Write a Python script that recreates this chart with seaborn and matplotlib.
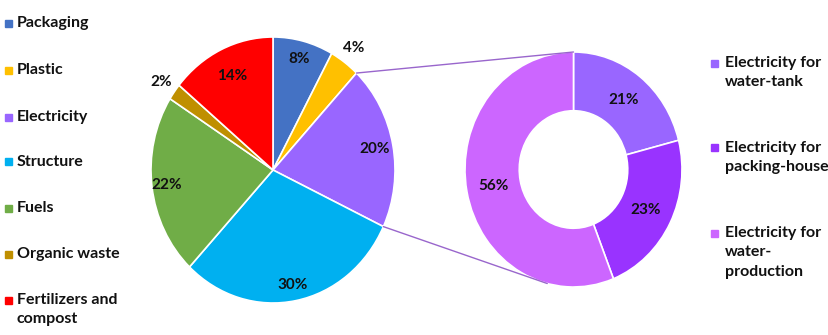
import textwrap
import numpy as np
import matplotlib
matplotlib.use("Agg")
import matplotlib.pyplot as plt
from matplotlib.patches import ConnectionPatch
import seaborn as sns

# ---- data ----
categories = ["Packaging", "Plastic", "Electricity", "Structure", "Fuels",
              "Organic waste", "Fertilizers and compost"]
shares = [8, 4, 20, 30, 22, 2, 14]
cat_colors = ["#4472C4", "#FFC000", "#9966FF", "#00B0F0", "#70AD47",
              "#BF8F00", "#FF0000"]

sub_categories = ["Electricity for water-tank", "Electricity for packing-house",
                  "Electricity for water-production"]
sub_shares = [21, 23, 56]
sub_colors = ["#9966FF", "#9933FF", "#CC66FF"]

sns.set_theme(style="white")
plt.rcParams["font.family"] = ["Lato", "DejaVu Sans"]

W, H = 829, 335
fig = plt.figure(figsize=(W / 100, H / 100), dpi=100)

def fx(x):
    return x / W

def fy(y):
    return 1 - y / H

# main pie axes (pixel bbox: x 151-395, y 37-303)
ax1 = fig.add_axes([fx(151), fy(303), (395 - 151) / W, (303 - 37) / H])
wedges1, _ = ax1.pie(shares, colors=cat_colors, startangle=90, counterclock=False,
                     wedgeprops=dict(edgecolor="white", linewidth=1.2))
ax1.set_xlim(-1, 1)
ax1.set_ylim(-1, 1)
ax1.set_aspect("auto")
ax1.axis("off")

label_r = [0.86, 1.13, 0.85, 0.88, 0.88, 1.13, 0.78]
for w, v, r in zip(wedges1, shares, label_r):
    th = np.deg2rad((w.theta1 + w.theta2) / 2)
    ax1.text(r * np.cos(th), r * np.sin(th), f"{v}%", ha="center", va="center",
             fontsize=11, fontweight="bold", color="#111111")

# donut axes (pixel bbox: x 465-682, y 52-287)
ax2 = fig.add_axes([fx(465), fy(287), (682 - 465) / W, (287 - 52) / H])
wedges2, _ = ax2.pie(sub_shares, colors=sub_colors, startangle=90, counterclock=False,
                     wedgeprops=dict(width=0.5, edgecolor="white", linewidth=1.2))
ax2.set_xlim(-1, 1)
ax2.set_ylim(-1, 1)
ax2.set_aspect("auto")
ax2.axis("off")
for w, v in zip(wedges2, sub_shares):
    th = np.deg2rad((w.theta1 + w.theta2) / 2)
    ax2.text(0.75 * np.cos(th), 0.75 * np.sin(th), f"{v}%", ha="center", va="center",
             fontsize=11, fontweight="bold", color="#111111")

# connecting lines from the Electricity wedge to the donut
elec = wedges1[2]
t_hi = np.deg2rad(elec.theta2)
t_lo = np.deg2rad(elec.theta1)
for ta, tb in [(t_hi, np.deg2rad(90)), (t_lo, np.deg2rad(-104))]:
    con = ConnectionPatch(xyA=(np.cos(ta), np.sin(ta)), coordsA=ax1.transData,
                          xyB=(np.cos(tb), np.sin(tb)), coordsB=ax2.transData,
                          color="#9966CC", linewidth=1.0)
    fig.add_artist(con)

# left legend
left_y = [23, 70, 117, 162, 208, 254, 300]
for cat, col, y in zip(categories, cat_colors, left_y):
    fig.patches.append(plt.Rectangle((fx(5), fy(y + 3.5)), 7 / W, 7 / H,
                                     transform=fig.transFigure, color=col,
                                     figure=fig))
    fig.text(fx(17), fy(y - 7), "\n".join(textwrap.wrap(cat, 15)), ha="left",
             va="top", fontsize=11.5, fontweight="bold", color="#111111",
             linespacing=1.5)

# right legend
right_y = [63, 148, 233]
for cat, col, y in zip(sub_categories, sub_colors, right_y):
    fig.patches.append(plt.Rectangle((fx(711), fy(y + 3.5)), 7 / W, 7 / H,
                                     transform=fig.transFigure, color=col,
                                     figure=fig))
    fig.text(fx(725), fy(y - 7), "\n".join(textwrap.wrap(cat, 15)), ha="left",
             va="top", fontsize=11.5, fontweight="bold", color="#111111",
             linespacing=1.5)

fig.savefig("out.png", dpi=100)
